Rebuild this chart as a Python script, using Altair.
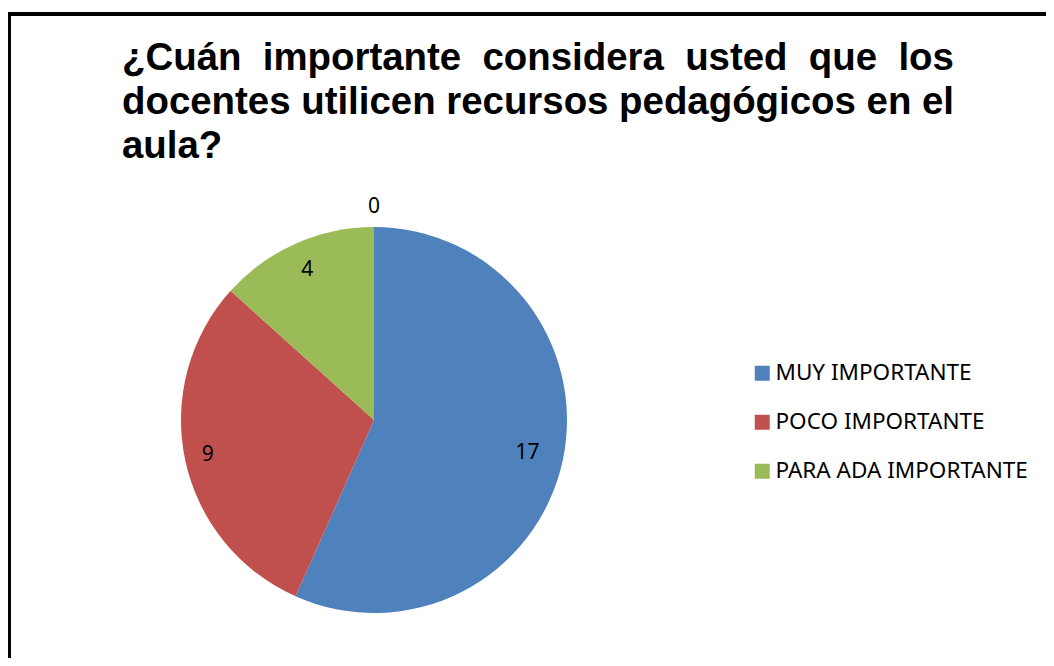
import altair as alt
import pandas as pd

categories = ["MUY IMPORTANTE", "POCO IMPORTANTE", "PARA ADA IMPORTANTE", "(sin respuesta)"]
values = [17, 9, 4, 0]
order_idx = [0, 1, 2, 3]
label_radius = [157, 170, 164, 213]
colors = ["#4F81BD", "#C0504D", "#9BBB59", "#8064A2"]
legend_items = categories[:3]

title_lines = [
    "\u00bfCu\u00e1n\u00a0\u00a0importante\u00a0\u00a0considera\u00a0\u00a0usted\u00a0\u00a0que\u00a0\u00a0los",
    "docentes utilicen recursos pedag\u00f3gicos en el",
    "aula?",
]

df = pd.DataFrame({
    "cat": categories,
    "value": values,
    "idx": order_idx,
    "r": label_radius,
})

W, H = 1038, 650
CX, CY, R = 366, 412, 193

base = alt.Chart(df)

pie = base.mark_arc(outerRadius=R).encode(
    theta=alt.Theta("value:Q", stack=True),
    order=alt.Order("idx:Q"),
    color=alt.Color(
        "cat:N",
        scale=alt.Scale(domain=categories, range=colors),
        sort=categories,
        legend=alt.Legend(
            title=None,
            values=legend_items,
            orient="none",
            legendX=743,
            legendY=354,
            symbolType="square",
            symbolSize=225,
            symbolStrokeWidth=0,
            labelFont="Noto Sans",
            labelFontSize=22.5,
            labelColor="#000000",
            labelOffset=2,
            rowPadding=26,
            labelLimit=400,
        ),
    ),
    x=alt.value(CX),
    y=alt.value(CY),
)

labels = base.transform_window(
    cum="sum(value)", sort=[alt.SortField("idx")], frame=[None, 0]
).transform_joinaggregate(
    total="sum(value)"
).transform_calculate(
    mid="(datum.cum - datum.value / 2) / datum.total * 2 * PI"
).mark_text(font="Noto Sans", fontSize=21, color="#000000").encode(
    theta=alt.Theta("mid:Q", scale=None),
    radius=alt.Radius("r:Q", scale=None),
    text=alt.Text("value:Q"),
    x=alt.value(CX),
    y=alt.value(CY),
)

title_df = pd.DataFrame({"t": ["\n".join(title_lines)]})
title = alt.Chart(title_df).mark_text(
    font="Liberation Sans",
    fontWeight="bold",
    fontSize=38.4,
    align="left",
    baseline="alphabetic",
    lineBreak="\n",
    lineHeight=44,
    color="#000000",
).encode(text="t:N", x=alt.value(114), y=alt.value(62))

border_top = alt.Chart(title_df).mark_rule(color="#000000", strokeWidth=4).encode(
    x=alt.value(1), x2=alt.value(W), y=alt.value(6)
)
border_left = alt.Chart(title_df).mark_rule(color="#000000", strokeWidth=4).encode(
    x=alt.value(1), y=alt.value(4), y2=alt.value(H)
)

chart = alt.layer(pie, labels, title, border_top, border_left).properties(
    width=W, height=H, padding=0, autosize=alt.AutoSizeParams(type="none"),
    background="#ffffff",
).configure_view(strokeWidth=0)

chart.save("out.html", embed_options={"renderer": "svg", "actions": False})
